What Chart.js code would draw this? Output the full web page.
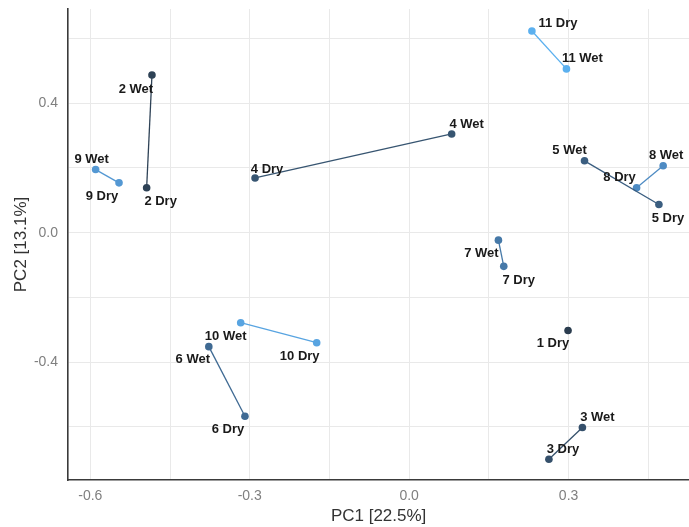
<!DOCTYPE html>
<html>
<head>
<meta charset="utf-8">
<script src="https://cdn.jsdelivr.net/npm/chart.js@4.4.1/dist/chart.umd.min.js"></script>
<style>
  html, body { margin: 0; padding: 0; background: #fff; overflow: hidden; }
  #wrap { width: 693px; height: 527px; position: relative; }
</style>
</head>
<body>
<div id="wrap"><canvas id="pca"></canvas></div>
<script>
// sample ids, PC scores for the wet and dry season (sample 1 has no wet sample)
const samples = ['1', '2', '3', '4', '5', '6', '7', '8', '9', '10', '11'];
const wetPC1 = [null, -0.484, 0.326, 0.080, 0.330, -0.377, 0.168, 0.478, -0.590, -0.317, 0.296];
const wetPC2 = [null, 0.487, -0.602, 0.305, 0.222, -0.352, -0.023, 0.207, 0.195, -0.278, 0.506];
const dryPC1 = [0.299, -0.494, 0.263, -0.290, 0.470, -0.309, 0.178, 0.428, -0.546, -0.174, 0.231];
const dryPC2 = [-0.302, 0.139, -0.700, 0.169, 0.087, -0.567, -0.104, 0.139, 0.154, -0.340, 0.623];
const xTicks = [-0.6, -0.45, -0.3, -0.15, 0, 0.15, 0.3, 0.45];
const yTicks = [-0.6, -0.4, -0.2, 0, 0.2, 0.4, 0.6];
const xTickLabels = ['-0.6', '', '-0.3', '', '0.0', '', '0.3', ''];
const yTickLabels = ['', '-0.4', '', '0.0', '', '0.4', ''];

const colours = ['#2b3d4f', '#2e4256', '#35506b', '#375571', '#3b5e80', '#3f6a93', '#4679a8',
                 '#4e8bc3', '#5498d3', '#58a4e1', '#5bb0ef'];

// label placement (pixel offset from the point, like ggrepel did it)
const labelOffsets = {
  '1 Dry': [-15, 13], '2 Wet': [-16, 14], '2 Dry': [14, 14],
  '3 Wet': [15, -10], '3 Dry': [14, -10], '4 Wet': [15, -10], '4 Dry': [12, -9],
  '5 Wet': [-15, -10], '5 Dry': [9, 14], '6 Wet': [-16, 13], '6 Dry': [-17, 13],
  '7 Wet': [-17, 13], '7 Dry': [15, 14], '8 Wet': [3, -10], '8 Dry': [-17, -10],
  '9 Wet': [-4, -10], '9 Dry': [-17, 14], '10 Wet': [-15, 14], '10 Dry': [-17, 14],
  '11 Wet': [16, -10], '11 Dry': [26, -8]
};

const datasets = samples.map((s, i) => {
  const pts = [];
  if (wetPC1[i] !== null) pts.push({ x: wetPC1[i], y: wetPC2[i], label: s + ' Wet' });
  pts.push({ x: dryPC1[i], y: dryPC2[i], label: s + ' Dry' });
  return {
    label: s,
    data: pts,
    showLine: true,
    borderColor: colours[i],
    backgroundColor: colours[i],
    borderWidth: 1.3,
    pointRadius: 3.8,
    pointBorderWidth: 0,
    pointHoverRadius: 3.8
  };
});

const labelPlugin = {
  id: 'pointLabels',
  afterDatasetsDraw(chart) {
    const ctx = chart.ctx;
    ctx.save();
    ctx.font = 'bold 13px "Liberation Sans", Arial, sans-serif';
    ctx.fillStyle = '#1a1a1a';
    ctx.textAlign = 'center';
    ctx.textBaseline = 'middle';
    chart.data.datasets.forEach((ds, di) => {
      const meta = chart.getDatasetMeta(di);
      ds.data.forEach((p, pi) => {
        const el = meta.data[pi];
        const off = labelOffsets[p.label] || [0, -10];
        ctx.fillText(p.label, el.x + off[0], el.y + off[1]);
      });
    });
    ctx.restore();
  },
  afterDraw(chart) {
    const ctx = chart.ctx;
    const a = chart.chartArea;
    ctx.save();
    ctx.font = '17px "Liberation Sans", Arial, sans-serif';
    ctx.fillStyle = '#333333';
    ctx.textAlign = 'center';
    ctx.textBaseline = 'middle';
    ctx.fillText('PC1 [22.5%]', (a.left + a.right) / 2, 516);
    ctx.translate(21, (a.top + a.bottom) / 2);
    ctx.rotate(-Math.PI / 2);
    ctx.fillText('PC2 [13.1%]', 0, 0);
    ctx.restore();
  }
};

// no extra room for tick labels at the ends of the axes
function noEndPadding(scale) {
  scale.paddingTop = 0;
  scale.paddingBottom = 0;
  scale.paddingLeft = 0;
  scale.paddingRight = 0;
}

new Chart(document.getElementById('pca'), {
  type: 'scatter',
  data: { datasets: datasets },
  plugins: [labelPlugin],
  options: {
    responsive: true,
    maintainAspectRatio: false,
    animation: false,
    layout: { padding: { top: 9, right: 0, left: 0, bottom: 0 } },
    plugins: { legend: { display: false }, tooltip: { enabled: false } },
    scales: {
      x: {
        type: 'linear',
        min: -0.642,
        max: 0.527,
        afterBuildTicks: (scale) => { scale.ticks = xTicks.map(v => ({ value: v })); },
        afterFit: (scale) => { scale.height = 47; noEndPadding(scale); },
        ticks: {
          callback: (v, i) => xTickLabels[i],
          color: '#7f7f7f',
          font: { family: '"Liberation Sans", Arial, sans-serif', size: 14 },
          padding: 8,
          maxRotation: 0,
          autoSkip: false
        },
        grid: { color: '#e9e9e9', lineWidth: 1, drawTicks: false },
        border: { display: true, color: '#3a3a3a', width: 1.6 }
      },
      y: {
        type: 'linear',
        min: -0.764,
        max: 0.691,
        afterBuildTicks: (scale) => { scale.ticks = yTicks.map(v => ({ value: v })); },
        afterFit: (scale) => { scale.width = 68; noEndPadding(scale); },
        ticks: {
          callback: (v, i) => yTickLabels[i],
          color: '#7f7f7f',
          font: { family: '"Liberation Sans", Arial, sans-serif', size: 14 },
          padding: 10,
          autoSkip: false
        },
        grid: { color: '#e9e9e9', lineWidth: 1, drawTicks: false },
        border: { display: true, color: '#3a3a3a', width: 1.6 }
      }
    }
  }
});
</script>
</body>
</html>
